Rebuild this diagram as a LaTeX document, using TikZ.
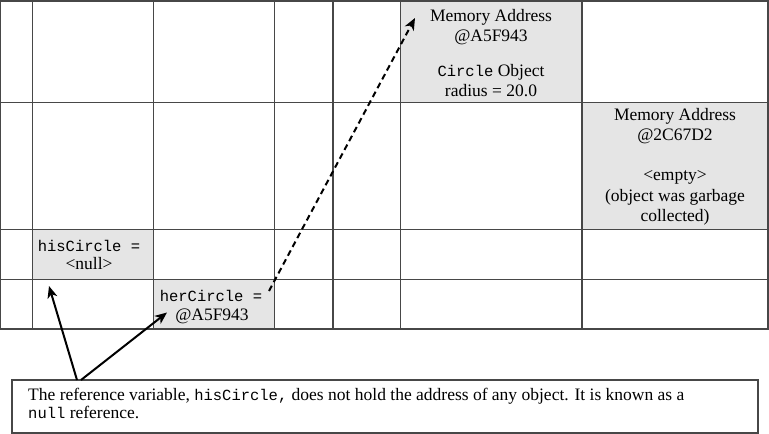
\documentclass[tikz,border=0pt]{standalone}
\usepackage{fontspec}
\setmainfont{Liberation Serif}
\setmonofont{Liberation Mono}
\usetikzlibrary{arrows.meta}
\newcommand\codetxt[1]{{\fontsize{15.5}{20}\selectfont\ttfamily #1}}
\begin{document}
\begin{tikzpicture}[x=1pt,y=-1pt,
  gridline/.style={line width=1.3pt, draw=black!72},
  cellfill/.style={fill=black!10, draw=none, inner sep=0pt, outer sep=0pt},
  txt/.style={anchor=base, inner sep=0pt, font=\fontsize{17.5}{20}\selectfont},
  notetxt/.style={anchor=base west, inner sep=0pt, font=\fontsize{17.5}{18}\selectfont},
  pointer/.style={line width=2pt, -{Stealth[length=12pt,width=10pt,inset=3.5pt]}},
  dashptr/.style={line width=2pt, dash pattern=on 6pt off 4pt, -{Stealth[length=12pt,width=10pt,inset=3.5pt]}}
]
\useasboundingbox (0,0) rectangle (769,434);

% shaded cells
\node[cellfill, minimum width=181.5pt, minimum height=101.5pt] (cellA) at (491.25,51.75) {};
\node[cellfill, minimum width=186pt, minimum height=127pt] (cellB) at (675,166) {};
\node[cellfill, minimum width=121pt, minimum height=50pt] (cellHis) at (93,254.5) {};
\node[cellfill, minimum width=121pt, minimum height=49.5pt] (cellHer) at (214,304.25) {};

% grid
\draw[gridline] (0.8,1) rectangle (768,329);
\foreach \xx in {32.5,153.5,274.5,333,400.5,582}
  \draw[gridline] (\xx,1) -- (\xx,329);
\foreach \yy in {102.5,229.5,279.5}
  \draw[gridline] (0.8,\yy) -- (768,\yy);

% texts in cells
\node[txt] (a1) at (491,21.7) {Memory Address};
\node[txt] (a2) at (491,41.7) {@A5F943};
\node[txt] (a3) at (491,76.7) {\codetxt{Circle} Object};
\node[txt] (a4) at (491,96.7) {radius = 20.0};

\node[txt] (b1) at (675,120) {Memory Address};
\node[txt] (b2) at (675,140) {@2C67D2};
\node[txt] (b3) at (675,180) {<empty>};
\node[txt] (b4) at (675,201) {(object was garbage};
\node[txt] (b5) at (675,221.5) {collected)};

\node[txt] (h1) at (89,251.7) {\codetxt{hisCircle =}};
\node[txt] (h2) at (89,269.3) {<null>};

\node[txt] (r1) at (211,301) {\codetxt{herCircle =}};
\node[txt] (r2) at (212,320) {@A5F943};

% note box
\node[draw=black!72, line width=1.3pt, minimum width=746pt, minimum height=53pt, inner sep=0pt, fill=white] (note) at (385,406.5) {};
\node[notetxt] (n1) at (28,400) {The reference variable, \codetxt{hisCircle,} does not hold the address of any object. It is known as a};
\node[notetxt] (n2) at (28,418) {\codetxt{null} reference.};

% pointers
\coordinate (src1) at (77,380);
\coordinate (src2) at (81,380);
\coordinate (hisTip) at (49,286);
\coordinate (herTip) at (167,312.5);
\draw[pointer] (src1) -- (hisTip);
\draw[pointer] (src2) -- (herTip);

\coordinate (dashStart) at (269,291);
\coordinate (dashTip) at (415,18);
\draw[dashptr] (dashStart) -- (dashTip);
\end{tikzpicture}
\end{document}
